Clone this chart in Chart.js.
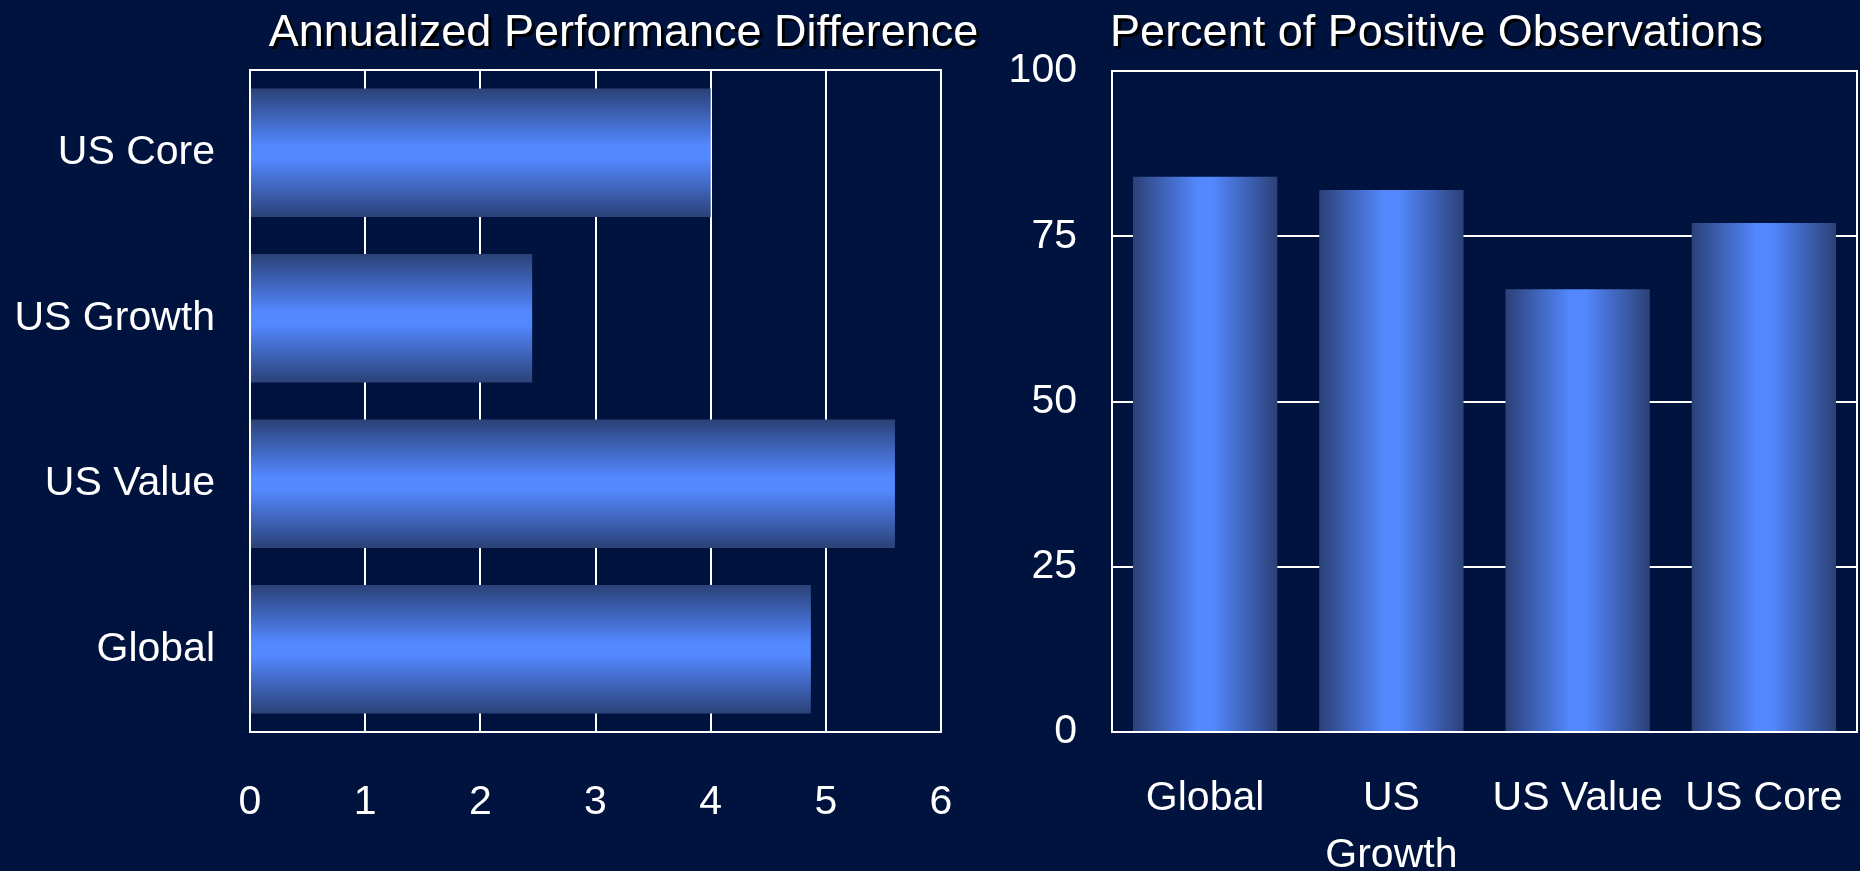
<!DOCTYPE html>
<html>
<head>
<meta charset="utf-8">
<title>Annualized Performance Difference / Percent of Positive Observations</title>
<script src="https://cdn.jsdelivr.net/npm/chart.js@4.4.1/dist/chart.umd.min.js"></script>
<style>
  html, body { margin: 0; padding: 0; background: #00123e; }
  body { width: 1860px; height: 871px; position: relative; overflow: hidden; }
  .panel { position: absolute; top: 0; height: 871px; }
  #perfPanel { left: 0; width: 1000px; }
  #obsPanel { left: 960px; width: 900px; }
</style>
</head>
<body>
<div class="panel" id="perfPanel"><canvas id="perfChart"></canvas></div>
<div class="panel" id="obsPanel"><canvas id="obsChart"></canvas></div>
<script>
// Annualized performance difference, listed top to bottom
const perfLabels = ['US Core', 'US Growth', 'US Value', 'Global'];
const perfValues = [4.0, 2.45, 5.6, 4.87];
const perfTicks = [0, 1, 2, 3, 4, 5, 6];

// Percent of positive observations
const obsLabels = ['Global', ['US', 'Growth'], 'US Value', 'US Core'];
const obsValues = [84, 82, 67, 77];
const obsTicks = [0, 25, 50, 75, 100];

const WHITE = '#ffffff';
const BAR_DARK = '#2b4177';
const BAR_LIGHT = '#5388ff';
const BAR_SHARE = 0.775;
const tickFont = { family: 'Liberation Sans', size: 41, lineHeight: 1.37 };
const titleFont = { family: 'Liberation Sans', size: 45, weight: 'normal', lineHeight: 1.2 };

Chart.defaults.font.family = 'Liberation Sans';
Chart.defaults.color = WHITE;

// shaded "cylinder" fill across the thickness of each bar
function barGradient(context) {
  const chart = context.chart;
  const area = chart.chartArea;
  if (!area || context.dataIndex === undefined) return BAR_LIGHT;
  const horizontal = chart.options.indexAxis === 'y';
  const scale = horizontal ? chart.scales.y : chart.scales.x;
  const span = horizontal ? area.bottom - area.top : area.right - area.left;
  const half = span / chart.data.labels.length * BAR_SHARE / 2;
  const mid = scale.getPixelForValue(context.dataIndex);
  const g = horizontal
    ? chart.ctx.createLinearGradient(0, mid - half, 0, mid + half)
    : chart.ctx.createLinearGradient(mid - half, 0, mid + half, 0);
  g.addColorStop(0, BAR_DARK);
  g.addColorStop(0.45, BAR_LIGHT);
  g.addColorStop(0.55, BAR_LIGHT);
  g.addColorStop(1, BAR_DARK);
  return g;
}

// fixed axis band; drop the extra room chart.js keeps for edge labels
function fixHeight(h) {
  return s => { s.height = h; s.paddingLeft = 0; s.paddingRight = 0; };
}
function fixWidth(w) {
  return s => { s.width = w; s.paddingTop = 0; s.paddingBottom = 0; };
}

// white box round the plot area
const plotFrame = {
  id: 'plotFrame',
  beforeDatasetsDraw(chart) {
    const { ctx, chartArea: a } = chart;
    ctx.save();
    ctx.strokeStyle = WHITE;
    ctx.lineWidth = 2;
    ctx.strokeRect(a.left, a.top, a.right - a.left, a.bottom - a.top);
    ctx.restore();
  }
};

// drop shadow under the title, plus a sideways nudge
const titleShadow = {
  id: 'titleShadow',
  beforeDraw(chart, args, opts) {
    const block = chart.titleBlock;
    if (!block || block._shadowed) return;
    const draw = block.draw;
    block.draw = function () {
      const ctx = chart.ctx;
      ctx.save();
      ctx.translate(opts.shiftX || 0, 0);
      ctx.shadowColor = opts.color || '#000';
      ctx.shadowOffsetX = opts.offset || 3;
      ctx.shadowOffsetY = opts.offset || 3;
      draw.apply(this, arguments);
      ctx.restore();
    };
    block._shadowed = true;
  }
};

new Chart(document.getElementById('perfChart'), {
  type: 'bar',
  data: {
    labels: perfLabels,
    datasets: [{
      data: perfValues,
      backgroundColor: barGradient,
      borderWidth: 0,
      categoryPercentage: 1,
      barPercentage: BAR_SHARE
    }]
  },
  options: {
    indexAxis: 'y',
    responsive: true,
    maintainAspectRatio: false,
    animation: false,
    layout: { padding: { right: 59 } },
    plugins: {
      legend: { display: false },
      tooltip: { enabled: false },
      title: {
        display: true,
        text: 'Annualized Performance Difference',
        color: WHITE,
        font: titleFont,
        padding: { top: 7, bottom: 9 }
      },
      titleShadow: { shiftX: 153, offset: 3, color: '#000000' }
    },
    scales: {
      x: {
        min: 0,
        max: 6,
        afterBuildTicks: s => { s.ticks = perfTicks.map(value => ({ value })); },
        grid: { color: WHITE, lineWidth: 2, drawTicks: false },
        border: { display: false },
        ticks: { color: WHITE, font: tickFont, padding: 43, maxRotation: 0 },
        afterFit: fixHeight(139)
      },
      y: {
        grid: { display: false, drawTicks: false },
        border: { display: false },
        ticks: { color: WHITE, font: tickFont, padding: 35 },
        afterFit: fixWidth(250)
      }
    }
  },
  plugins: [plotFrame, titleShadow]
});

new Chart(document.getElementById('obsChart'), {
  type: 'bar',
  data: {
    labels: obsLabels,
    datasets: [{
      data: obsValues,
      backgroundColor: barGradient,
      borderWidth: 0,
      categoryPercentage: 1,
      barPercentage: BAR_SHARE
    }]
  },
  options: {
    indexAxis: 'x',
    responsive: true,
    maintainAspectRatio: false,
    animation: false,
    layout: { padding: { right: 3 } },
    plugins: {
      legend: { display: false },
      tooltip: { enabled: false },
      title: {
        display: true,
        text: 'Percent of Positive Observations',
        color: WHITE,
        font: titleFont,
        padding: { top: 7, bottom: 10 }
      },
      titleShadow: { shiftX: 28, offset: 3, color: '#000000' }
    },
    scales: {
      x: {
        grid: { display: false, drawTicks: false },
        border: { display: false },
        ticks: { color: WHITE, font: tickFont, padding: 39, autoSkip: false, maxRotation: 0 },
        afterFit: fixHeight(139)
      },
      y: {
        min: 0,
        max: 100,
        afterBuildTicks: s => { s.ticks = obsTicks.map(value => ({ value })); },
        grid: { color: WHITE, lineWidth: 2, drawTicks: false },
        border: { display: false },
        ticks: { color: WHITE, font: tickFont, padding: 35 },
        afterFit: fixWidth(152)
      }
    }
  },
  plugins: [plotFrame, titleShadow]
});
</script>
</body>
</html>
